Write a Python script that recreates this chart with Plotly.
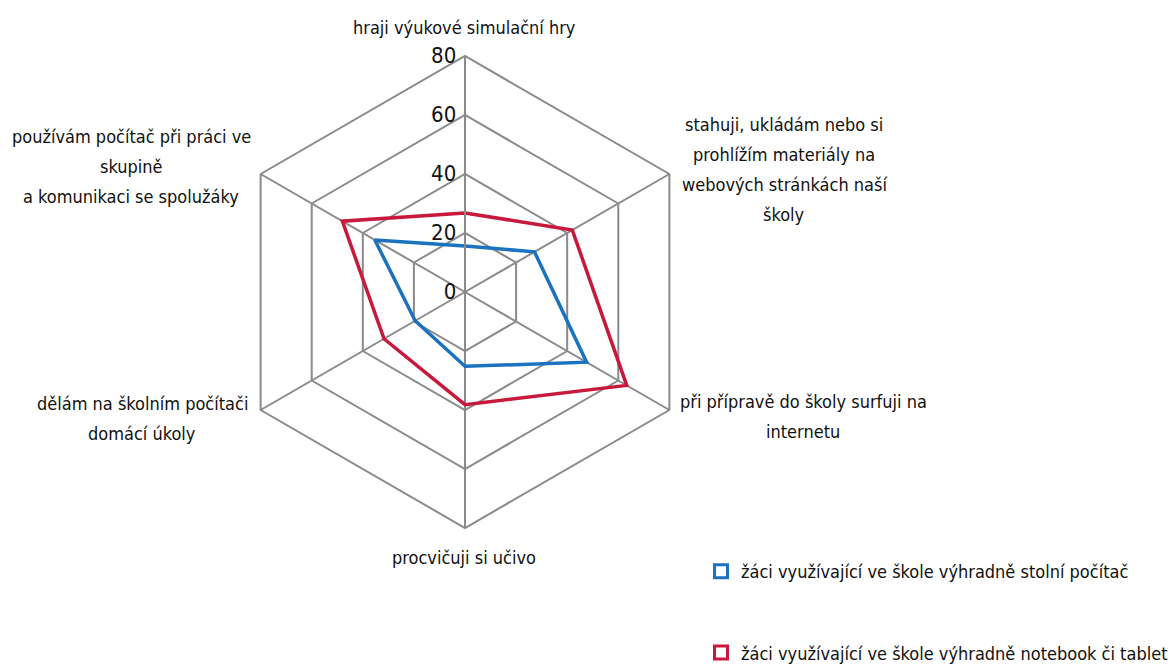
import plotly.graph_objects as go

categories = [
    "hraji výukové simulační hry",
    "stahuji, ukládám nebo si\nprohlížím materiály na\nwebových stránkách naší\nškoly",
    "při přípravě do školy surfuji na\ninternetu",
    "procvičuji si učivo",
    "dělám na školním počítači\ndomácí úkoly",
    "používám počítač při práci ve\nskupině\na komunikaci se spolužáky",
]
series_names = [
    "žáci využívající ve škole výhradně stolní počítač",
    "žáci využívající ve škole výhradně notebook či tablet",
]
desktop = [15.6, 27.2, 47.6, 25.2, 19.5, 35.3]
notebook = [26.8, 42.0, 63.3, 38.2, 31.7, 48.0]
radial_ticks = [0, 20, 40, 60, 80]

FONT = "Liberation Sans Narrow, DejaVu Sans Condensed, Arial Narrow, sans-serif"
W, H = 1173, 664
GRID = "#8a8a8a"
colors = ["#1B72BE", "#C8193C"]

theta = list(range(len(categories)))
fig = go.Figure()
for i, (name, vals) in enumerate(zip(series_names, [desktop, notebook])):
    fig.add_trace(go.Scatterpolar(
        r=vals + [vals[0]],
        theta=theta + [theta[0]],
        mode="lines",
        line=dict(color=colors[i], width=3.5),
        name=name,
        showlegend=False,
    ))
# legend entries (open square symbols like the reference)
for i, name in enumerate(series_names):
    fig.add_trace(go.Scatterpolar(
        r=[None], theta=[None], mode="markers", name=name,
        marker=dict(symbol="square-open", size=13, color=colors[i],
                    line=dict(width=3, color=colors[i])),
        legendgroup=f"g{i}", showlegend=True,
    ))

# label anchor centres (pixels) for each category block
label_pos = [(464, 28), (784, 169), (803, 416), (464, 557), (142, 418), (131, 166)]
LINE = 30
annotations = []
for cat, (cx, cy) in zip(categories, label_pos):
    lines = cat.split("\n")
    n = len(lines)
    for j, ln in enumerate(lines):
        y = cy + (j - (n - 1) / 2) * LINE
        annotations.append(dict(
            text=ln, x=cx / W, y=1 - y / H, xref="paper", yref="paper",
            xanchor="center", yanchor="middle", showarrow=False,
            font=dict(family=FONT, size=18, color="#111"),
        ))

cx, cy, R = 465, 292, 236
fig.update_layout(
    width=W, height=H,
    margin=dict(l=0, r=0, t=0, b=0, autoexpand=False),
    paper_bgcolor="white",
    font=dict(family=FONT, size=18, color="#111"),
    annotations=annotations,
    polar=dict(
        domain=dict(x=[(cx - R) / W, (cx + R) / W], y=[(H - cy - R) / H, (H - cy + R) / H]),
        gridshape="linear",
        bgcolor="white",
        radialaxis=dict(
            range=[0, 80], tickvals=radial_ticks, angle=90, tickangle=90,
            side="counterclockwise", showline=True, linecolor=GRID, linewidth=2,
            gridcolor=GRID, gridwidth=2, ticks="",
            tickfont=dict(family=FONT, size=22, color="#111"),
        ),
        angularaxis=dict(
            type="category", direction="clockwise", rotation=90,
            showticklabels=False, ticks="", showline=True,
            linecolor=GRID, linewidth=2, gridcolor=GRID, gridwidth=2,
        ),
    ),
    showlegend=True,
    legend=dict(
        x=1, y=1 - 553 / H, xanchor="right", yanchor="top",
        tracegroupgap=55, bgcolor="rgba(0,0,0,0)",
        font=dict(family=FONT, size=18, color="#111"),
        itemwidth=30,
    ),
)
fig.write_html("out.html", config={"displayModeBar": False},
               post_script="document.body.style.margin='0';")
